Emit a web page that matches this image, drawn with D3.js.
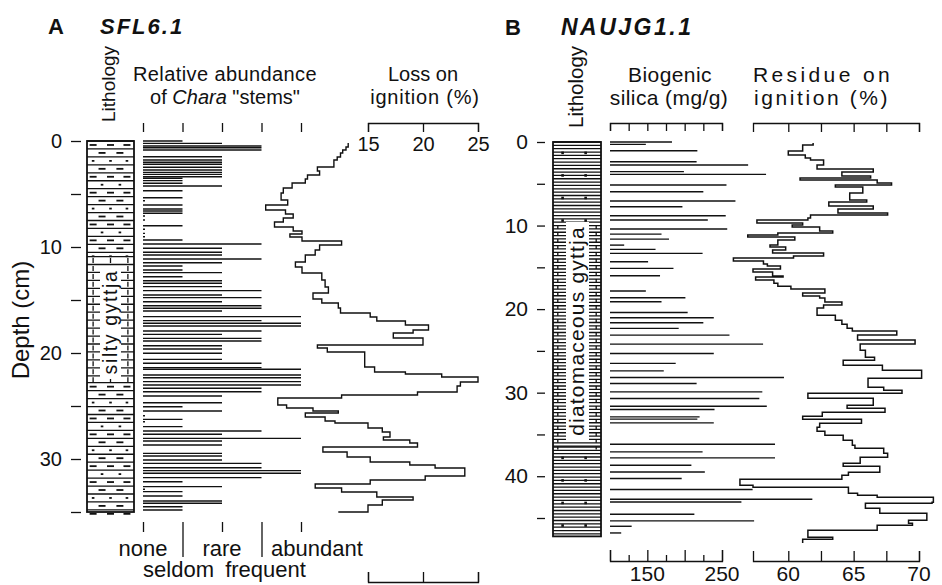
<!DOCTYPE html>
<html>
<head>
<meta charset="utf-8">
<script src="https://cdn.jsdelivr.net/npm/d3@7"></script>
<style>
  body { margin: 0; background: #fff; }
  text { font-family: "Liberation Sans", Arial, Helvetica, sans-serif; fill: #111; }
</style>
</head>
<body>
<svg id="chart" width="942" height="585"></svg>
<script>
const INK = "#111";
const FONT = "Liberation Sans, Arial, Helvetica, sans-serif";

// ---- data ----
const depthTicksA = [0, 5, 10, 15, 20, 25, 30, 35];
const depthTicksB = [0, 5, 10, 15, 20, 25, 30, 35, 40, 45];
const charaLevels = ["none", "seldom", "rare", "frequent", "abundant"];

// [depth cm, abundance level index]
const charaA = [[0.0,1],[0.22,2],[0.47,3],[0.63,3],[0.85,3],[1.48,2],[1.79,2],[2.0,2],[2.2,2],[2.48,2],
  [2.74,2],[2.96,2],[3.15,2],[3.37,2],[3.52,1],[3.74,1],[3.99,1],[4.25,2],[4.69,1],[5.35,1],[5.63,0],
  [6.04,1],[6.42,1],[6.6,1],[6.82,1],[7.08,0],[7.45,0],[7.99,1],[8.33,0],[8.71,0],[9.03,0],[9.34,1],
  [9.72,3],[10.12,2],[10.5,2],[10.75,2],[11.13,3],[11.48,2],[11.79,1],[12.17,1],[12.42,2],[12.8,1],
  [13.18,2],[13.42,2],[13.74,2],[14.12,3],[14.53,2],[14.78,3],[15.16,2],[15.54,3],[15.78,3],[16.04,2],
  [16.57,4],[16.95,3],[17.2,4],[17.45,4],[17.92,3],[18.24,2],[18.62,3],[18.87,3],[19.31,2],[19.62,2],
  [20.03,2],[20.6,2],[20.97,3],[21.38,3],[21.54,4],[22.08,4],[22.33,4],[22.7,4],[23.02,4],[23.33,3],
  [23.65,3],[24.06,2],[24.69,2],[25.07,1],[25.47,2],[25.92,0],[26.26,1],[26.48,0],[26.95,1],[27.36,3],
  [27.67,2],[28.05,4],[28.3,2],[28.68,2],[29.47,2],[29.72,2],[30.09,2],[30.41,3],[30.82,3],[31.1,4],
  [31.35,4],[31.76,3],[32.14,1],[32.61,2],[32.86,0],[33.08,1],[33.49,1],[33.96,2],[34.18,2],[34.5,1],[34.81,1]];

// [top depth cm, loss on ignition %]
const loiA = [[0.19,13.2],[0.57,13.0],[0.85,12.7],[1.13,12.5],[1.51,12.2],[1.79,11.9],[2.45,10.4],[2.83,10.6],
  [3.21,9.5],[3.58,9.3],[3.96,8.1],[4.43,7.3],[4.91,7.1],[5.57,7.7],[6.04,5.7],[6.51,7.5],[6.89,8.2],
  [7.26,7.3],[7.64,6.5],[8.11,8.2],[8.49,9.0],[8.77,7.9],[9.06,9.0],[9.43,12.6],[9.81,10.6],[10.28,10.2],
  [10.75,9.3],[11.42,8.4],[11.89,9.0],[12.45,10.8],[13.11,11.1],[13.77,11.4],[14.34,10.0],[14.91,10.8],
  [15.28,12.3],[15.75,12.5],[16.23,15.2],[16.6,15.8],[16.98,18.4],[17.36,20.5],[17.83,19.1],[18.11,17.3],
  [18.58,20.0],[19.25,10.4],[19.53,11.3],[19.91,14.7],[21.32,15.6],[21.79,18.4],[21.98,21.7],[22.26,25.0],
  [22.74,23.4],[23.11,23.1],[23.68,19.5],[23.96,12.6],[24.25,6.8],[24.91,7.6],[25.19,10.0],[25.47,12.3],
  [25.66,9.3],[26.04,11.1],[26.42,12.0],[26.6,15.0],[27.08,16.3],[27.45,17.0],[27.92,16.4],[28.21,18.8],
  [28.49,19.5],[28.87,10.9],[29.34,13.1],[29.81,15.2],[30.28,18.8],[30.57,21.1],[30.85,23.8],[31.6,20.2],
  [31.98,15.2],[32.36,10.2],[32.74,12.6],[33.11,15.8],[33.58,19.1],[33.87,16.3],[34.34,15.0],[35.0,12.3]];
const loiTicks = [15, 20, 25];

// [depth cm, biogenic silica mg/g]
const silicaB = [[0.0,183],[0.28,148],[1.04,217],[2.36,216],[2.75,285],[3.55,199],[3.87,309],[5.15,256],
  [5.95,225],[7.07,268],[7.75,197],[8.83,255],[9.34,231],[10.42,257],[11.02,169],[11.62,179],[12.34,119],
  [12.85,161],[13.33,224],[14.33,151],[15.13,185],[16.01,167],[17.84,148],[18.64,201],[19.12,169],
  [20.4,204],[21.04,239],[21.64,225],[22.31,192],[23.11,260],[24.19,305],[25.31,239],[26.5,188],
  [27.39,172],[28.18,333],[28.9,216],[29.9,304],[30.7,300],[31.62,310],[32.02,240],[32.9,220],
  [33.17,217],[33.62,239],[36.17,321],[37.09,224],[37.81,321],[38.68,209],[39.49,227],[40.28,196],
  [41.59,291],[42.75,371],[43.08,276],[44.55,213],[45.35,293],[45.99,129],[46.79,115]];
const silicaTicks = [100, 125, 150, 175, 200, 225, 250];
const silicaLabels = [150, 250];

// [top depth cm, residue on ignition %]
const residueB = [[0.12,61.9],[0.36,61.1],[1.08,60.0],[1.56,61.3],[1.92,61.7],[2.16,62.7],[2.75,62.2],
  [3.23,66.5],[3.59,64.1],[4.07,66.3],[4.31,60.9],[4.55,66.8],[4.91,67.9],[5.15,63.6],[5.39,65.7],
  [6.11,64.7],[6.95,66.0],[7.19,63.1],[7.66,66.5],[8.02,63.8],[8.5,67.6],[8.74,61.7],[9.1,61.5],
  [9.34,57.6],[9.7,61.1],[9.94,60.3],[10.18,62.4],[10.66,63.4],[10.9,59.2],[11.14,56.9],[11.38,60.5],
  [11.74,59.2],[12.34,58.6],[12.57,59.8],[12.93,58.8],[13.29,62.7],[13.65,60.4],[13.89,55.8],[14.25,58.1],
  [14.61,58.4],[14.85,59.4],[15.21,57.3],[15.57,58.8],[16.05,59.6],[16.17,57.5],[16.53,58.9],[16.89,59.2],
  [17.25,60.2],[17.6,62.8],[18.08,61.1],[18.44,62.4],[18.68,62.8],[19.16,64.1],[19.52,62.7],[19.88,62.2],
  [20.72,63.6],[21.32,64.1],[21.8,64.5],[22.28,64.9],[22.63,68.3],[23.11,65.3],[23.71,69.7],[24.19,65.5],
  [24.91,65.9],[25.75,66.6],[26.11,64.2],[26.71,67.2],[27.31,70.2],[28.26,66.1],[29.34,67.3],[29.7,68.7],
  [30.06,61.5],[30.66,66.5],[31.5,64.5],[31.86,67.4],[32.34,62.6],[32.81,61.1],[33.17,65.6],[33.65,62.4],
  [34.13,62.2],[34.61,62.8],[35.09,64.2],[35.69,64.9],[36.29,65.1],[36.65,67.3],[37.25,67.6],[37.72,65.5],
  [38.44,64.2],[38.8,67.0],[39.52,64.6],[39.88,64.1],[40.36,56.3],[41.08,57.3],[41.32,64.6],[42.04,65.3],
  [42.28,66.8],[42.51,71.1],[43.11,71.0],[43.23,65.9],[43.83,67.0],[44.43,70.6],[45.27,69.2],[45.63,69.5],
  [45.87,66.8],[46.47,61.5],[46.83,61.5],[47.31,63.4],[47.54,61.1],[48.0,61.1]];
const residueTicks = [60, 62.5, 65, 67.5, 70];
const residueLabels = [60, 65, 70];

// lithology units [top, bottom, kind]
const lithA = [[0, 10.9, "silt"], [10.9, 22.8, "gyttja"], [22.8, 35, "silt"]];
const lithB = [[0, 10, "dots"], [10, 36.5, "diatom"], [36.5, 47.2, "dots"]];

// ---- scales ----
const yA = d3.scaleLinear().domain([0, 35]).range([141, 512]);
const yB = d3.scaleLinear().domain([0, 45]).range([142, 518]);
const xC = d3.scalePoint().domain(charaLevels).range([143, 301]);
const loiX = d3.scaleLinear().domain([15, 25]).range([368, 478]);
const silX = d3.scaleLinear().domain([100, 250]).range([610, 722]);
const rsdX = d3.scaleLinear().domain([57.3, 70]).range([753, 919]);

const svg = d3.select("#chart");

function styleAxis(g, size) {
    g.attr("font-family", FONT).attr("font-size", size);
    g.selectAll("line, path").attr("stroke", INK).attr("stroke-width", 1.3);
    g.selectAll("text").attr("fill", INK);
}

function text(x, y, str, size, opts = {}) {
    const t = svg.append("text")
        .attr("x", x).attr("y", y)
        .attr("font-size", size)
        .attr("text-anchor", opts.anchor || "middle")
        .text(str);
    if (opts.weight) t.attr("font-weight", opts.weight);
    if (opts.style) t.attr("font-style", opts.style);
    if (opts.ls) t.attr("letter-spacing", opts.ls);
    if (opts.rotate) t.attr("transform", `rotate(-90, ${x}, ${y})`);
    return t;
}

// ---- titles ----
text(48, 34, "A", 22, {anchor: "start", weight: "bold"});
text(100, 34, "SFL6.1", 22, {anchor: "start", weight: "bold", style: "italic", ls: 2});
text(505, 35, "B", 22, {anchor: "start", weight: "bold"});
text(561, 35, "NAUJG1.1", 23, {anchor: "start", weight: "bold", style: "italic", ls: 2.5});

// ---- headers ----
text(115, 122, "Lithology", 19, {anchor: "start", rotate: true});
text(583, 128, "Lithology", 20.5, {anchor: "start", rotate: true});
text(225, 81, "Relative abundance", 20, {ls: 0.4});
const chTitle = text(225, 104, "of ", 20);
chTitle.append("tspan").attr("font-style", "italic").text("Chara");
chTitle.append("tspan").text(" \"stems\"");
text(423, 81, "Loss on", 20);
text(425, 104, "ignition (%)", 20, {ls: 0.8});
text(670, 82, "Biogenic", 21, {ls: 0.4});
text(669, 105, "silica (mg/g)", 21, {ls: 0.4});
text(823, 82, "Residue on", 21, {ls: 3.4});
text(822, 105, "ignition (%)", 21, {ls: 2.6});
text(29, 320, "Depth (cm)", 24, {rotate: true});

// ---- depth axes ----
svg.append("g").attr("transform", "translate(81,0)")
    .call(d3.axisLeft(yA).tickValues(depthTicksA).tickSize(10).tickPadding(9)
        .tickFormat(d => d % 10 ? "" : d))
    .call(g => g.select(".domain").remove())
    .call(g => styleAxis(g, 20));

svg.append("g").attr("transform", "translate(545,0)")
    .call(d3.axisLeft(yB).tickValues(depthTicksB).tickSize(8).tickPadding(9)
        .tickFormat(d => d % 10 ? "" : d))
    .call(g => g.select(".domain").remove())
    .call(g => styleAxis(g, 21));

// ---- lithology columns ----
function lithColumn(y, units, x0, x1, cfg) {
    const g = svg.append("g");
    units.forEach(([top, bot, kind]) => {
        const bands = d3.range(top, bot - 0.01, cfg.step);
        bands.forEach((d, i) => {
            g.append("line").attr("x1", x0).attr("x2", x1)
                .attr("y1", y(d)).attr("y2", y(d))
                .attr("stroke", INK).attr("stroke-width", cfg.lw);
            const mid = y(d + cfg.step / 2);
            if (kind === "silt") {
                const xs = i % 2 ? [0.32, 0.7] : [0.13, 0.5, 0.85];
                xs.forEach(f => {
                    const cx = x0 + f * (x1 - x0);
                    const w = i % 3 === 2 ? 1.3 : 3.5;
                    g.append("line").attr("x1", cx - w).attr("x2", cx + w)
                        .attr("y1", mid).attr("y2", mid)
                        .attr("stroke", INK).attr("stroke-width", 1.8);
                });
            } else if (kind === "gyttja") {
                [0.13, 0.5, 0.87].forEach(f => {
                    const cx = x0 + f * (x1 - x0);
                    g.append("line").attr("x1", cx).attr("x2", cx)
                        .attr("y1", mid - 2.5).attr("y2", mid + 2.5)
                        .attr("stroke", INK).attr("stroke-width", 1.3);
                });
            } else if (kind === "diatom" && i % 2 === 0) {
                [0.1, 0.9].forEach(f => {
                    const cx = x0 + f * (x1 - x0);
                    g.append("line").attr("x1", cx).attr("x2", cx)
                        .attr("y1", y(d)).attr("y2", y(d + cfg.step))
                        .attr("stroke", INK).attr("stroke-width", 1.3);
                });
            }
        });
        if (kind === "dots") {
            d3.range(top + 1.3, bot, 2.7).forEach(d => {
                [0.2, 0.68].forEach(f => {
                    g.append("rect").attr("x", x0 + f * (x1 - x0) - 1.3).attr("y", y(d) - 1.3)
                        .attr("width", 2.6).attr("height", 2.6).attr("fill", INK);
                });
            });
        }
    });
    g.append("rect").attr("x", x0).attr("y", y(units[0][0]))
        .attr("width", x1 - x0).attr("height", y(units[units.length - 1][1]) - y(units[0][0]))
        .attr("fill", "none").attr("stroke", INK).attr("stroke-width", 1.8);
    return g;
}

lithColumn(yA, lithA, 87, 134, {step: 0.75, lw: 1.3});
svg.append("rect").attr("x", 100).attr("y", 266).attr("width", 21).attr("height", 113).attr("fill", "#fff");
text(117, 322, "silty gyttja", 19.5, {rotate: true, ls: 1.6});

lithColumn(yB, lithB, 553, 601, {step: 0.4, lw: 1.3});
svg.append("rect").attr("x", 566).attr("y", 222).attr("width", 23).attr("height", 220).attr("fill", "#fff");
text(584, 331, "diatomaceous gyttja", 21, {rotate: true, ls: 1.2});

// ---- Chara abundance ----
svg.append("g").selectAll("line").data(charaA).join("line")
    .attr("x1", xC("none"))
    .attr("x2", d => d[1] === 0 ? xC("none") + 2 : xC(charaLevels[d[1]]))
    .attr("y1", d => yA(d[0])).attr("y2", d => yA(d[0]))
    .attr("stroke", INK).attr("stroke-width", 1.4);

svg.append("g").attr("transform", "translate(0,132)")
    .call(d3.axisTop(xC).tickSize(9).tickFormat(""))
    .call(g => g.select(".domain").remove())
    .call(g => styleAxis(g, 20));

svg.append("g").attr("transform", "translate(0,522)")
    .call(d3.axisBottom(xC).tickSize(10).tickFormat(""))
    .call(g => g.select(".domain").remove())
    .call(g => g.selectAll(".tick line").attr("y2", d => charaLevels.indexOf(d) % 2 ? 35 : 10))
    .call(g => styleAxis(g, 20));

charaLevels.forEach((lev, i) => {
    const lower = i % 2 === 1;
    const dx = lev === "abundant" ? 16 : (lev === "seldom" ? -4 : (lev === "frequent" ? 4 : 0));
    text(xC(lev) + dx, lower ? 577 : 556, lev, 22);
});

// ---- loss on ignition (A) ----
const loiLine = d3.line().x(d => loiX(d[1])).y(d => yA(d[0])).curve(d3.curveStepBefore);
svg.append("path").datum(loiA).attr("d", loiLine)
    .attr("fill", "none").attr("stroke", INK).attr("stroke-width", 1.4);

svg.append("g").attr("transform", "translate(0,123)")
    .call(d3.axisBottom(loiX).tickValues(loiTicks).tickSize(9).tickPadding(5))
    .call(g => styleAxis(g, 20));

svg.append("g").attr("transform", "translate(0,582)")
    .call(d3.axisTop(loiX).tickValues(loiTicks).tickSize(10).tickFormat(""))
    .call(g => styleAxis(g, 20));

// ---- biogenic silica (B) ----
svg.append("g").selectAll("line").data(silicaB).join("line")
    .attr("x1", silX(100)).attr("x2", d => silX(d[1]))
    .attr("y1", d => yB(d[0])).attr("y2", d => yB(d[0]))
    .attr("stroke", INK).attr("stroke-width", 1.4);

svg.append("g").attr("transform", "translate(0,123)")
    .call(d3.axisBottom(silX).tickValues(silicaTicks).tickSize(8).tickFormat(""))
    .call(g => styleAxis(g, 21));

svg.append("g").attr("transform", "translate(0,561)")
    .call(d3.axisTop(silX).tickValues(silicaTicks).tickSize(11).tickFormat(""))
    .call(g => g.selectAll(".tick line").attr("y2", d => d % 50 ? -6 : -11))
    .call(g => styleAxis(g, 21));

silicaLabels.forEach(v => text(silX(v), 581, v, 21));

// ---- residue on ignition (B) ----
const rsdLine = d3.line().x(d => rsdX(d[1])).y(d => yB(d[0])).curve(d3.curveStepBefore);
svg.append("path").datum(residueB).attr("d", rsdLine)
    .attr("fill", "none").attr("stroke", INK).attr("stroke-width", 1.5);

svg.append("g").attr("transform", "translate(0,123)")
    .call(d3.axisBottom(rsdX).tickValues(residueTicks).tickSize(9).tickFormat(""))
    .call(g => styleAxis(g, 21));

svg.append("g").attr("transform", "translate(0,561)")
    .call(d3.axisTop(rsdX).tickValues(residueTicks).tickSize(10).tickFormat(""))
    .call(g => styleAxis(g, 21));

residueLabels.forEach(v => text(rsdX(v), 581, v, 21));
</script>
</body>
</html>
